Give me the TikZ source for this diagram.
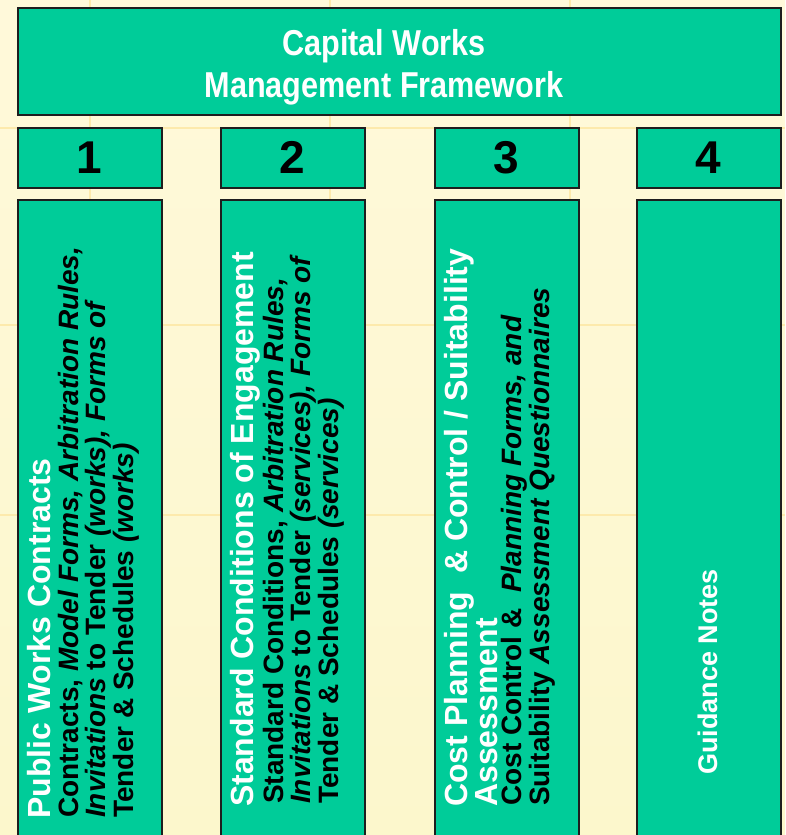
\documentclass[tikz,border=0pt]{standalone}
\usepackage{fontspec}
\setmainfont{Liberation Sans}
\newfontfamily\narrowfont[FakeStretch=0.85]{Liberation Sans}
\definecolor{boxgreen}{RGB}{0,204,153}
\definecolor{boxline}{RGB}{30,30,30}
\definecolor{papertop}{RGB}{255,249,218}
\definecolor{papermid}{RGB}{255,244,190}
\definecolor{paperbot}{RGB}{252,247,204}
\definecolor{tileline}{RGB}{253,234,172}

\begin{document}
\begin{tikzpicture}[x=1pt, y=-1pt,
    panel/.style={draw=boxline, fill=boxgreen, line width=1.5pt, inner sep=0pt,
      anchor=north west, minimum width=144pt},
    heading/.style={rotate=90, anchor=base west, inner sep=0pt, align=left,
      text=white, font=\bfseries\fontsize{32}{21}\selectfont},
    detail/.style={rotate=90, anchor=base west, inner sep=0pt, align=left,
      text=black, font=\bfseries\fontsize{28}{27.5}\selectfont}]

  % Background
  \useasboundingbox (0,0) rectangle (785,835);
  \clip (0,0) rectangle (785,835);
  \shade[top color=papertop, middle color=papermid, bottom color=paperbot] (0,0) rectangle (785,835);
  \foreach \gx in {90,330,570}
    \draw[tileline, line width=2pt] (\gx,0) -- (\gx,835);
  \foreach \gy in {128,325,515}
    \draw[tileline, line width=2pt] (0,\gy) -- (785,\gy);

  % Define nodes
  \node[panel, minimum width=763pt, minimum height=107pt] (frame) at (17,7) {};
  \node[text=white, align=center, inner sep=0pt, font=\narrowfont\bfseries\fontsize{36}{42}\selectfont] (title) at (384,67) {Capital Works\\Management Framework};

  \node[panel, minimum height=60pt, font=\bfseries\fontsize{46}{46}\selectfont] (num1) at (17,127) {1};
  \node[panel, minimum height=60pt, font=\bfseries\fontsize{46}{46}\selectfont] (num2) at (220,127) {2};
  \node[panel, minimum height=60pt, font=\bfseries\fontsize{46}{46}\selectfont] (num3) at (434,127) {3};
  \node[panel, minimum height=60pt, font=\bfseries\fontsize{46}{46}\selectfont] (num4) at (636,127) {4};

  \node[panel, minimum height=700pt] (col1) at (17,199) {};
  \node[panel, minimum height=700pt] (col2) at (220,199) {};
  \node[panel, minimum height=700pt] (col3) at (434,199) {};
  \node[panel, minimum height=700pt] (col4) at (636,199) {};

  % Column texts (base anchor sits on the last line)
  \node[heading] (head1) at (50,819) {Public Works Contracts};
  \node[detail] (text1) at (133,818) {Contracts, \textit{Model Forms, Arbitration Rules,}\\\textit{Invitations} to Tender \textit{(works), Forms of}\\Tender \& Schedules \textit{(works)}};

  \node[heading] (head2) at (253,807) {Standard Conditions of Engagement};
  \node[detail] (text2) at (338,804) {Standard Conditions, \textit{Arbitration Rules,}\\\textit{Invitations} to Tender \textit{(services), Forms of}\\Tender \& Schedules \textit{(services)}};

  \node[heading] (head3) at (497,807) {Cost Planning\ \ \& Control / Suitability\\Assessment};
  \node[detail, font=\bfseries\fontsize{28}{20}\selectfont] (text3) at (549,806) {Cost Control \&\ \ \textit{Planning Forms, and}\\Suitability \textit{Assessment Questionnaires}};

  \node[heading, anchor=center, font=\bfseries\fontsize{27}{27}\selectfont] (head4) at (708,672) {Guidance Notes};

\end{tikzpicture}
\end{document}
